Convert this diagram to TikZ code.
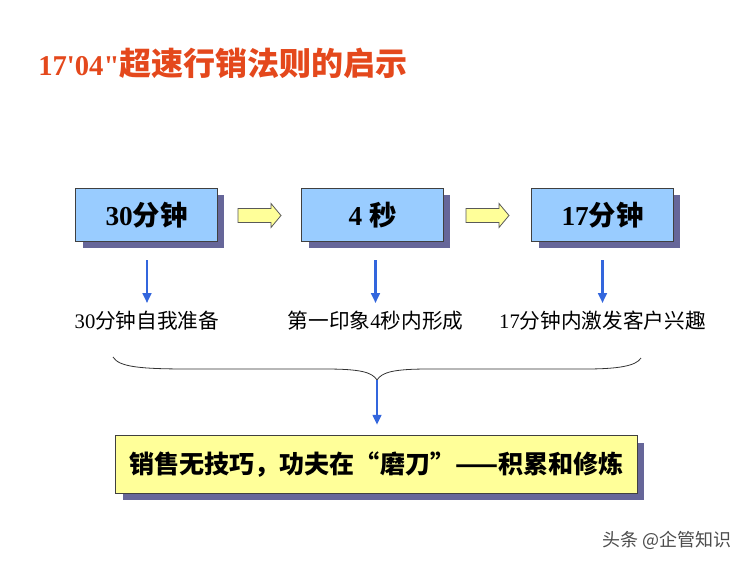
\documentclass[tikz,border=0pt]{standalone}
\usepackage{fontspec}
\setmainfont{Liberation Serif}
\newfontfamily\cjk{Noto Sans CJK SC}
\newfontfamily\straight[Ligatures=TeXOff]{Liberation Serif}
\usepackage{tikz}
\usetikzlibrary{calc}
\usetikzlibrary{shadows}
\usetikzlibrary{arrows.meta}

\definecolor{titlered}{RGB}{228,72,28}
\definecolor{boxblue}{RGB}{153,204,255}
\definecolor{boxyellow}{RGB}{255,255,153}
\definecolor{shadowblue}{RGB}{102,102,153}
\definecolor{flowblue}{RGB}{51,102,221}

\begin{document}
\begin{tikzpicture}[x=0.75pt,y=-0.75pt,
        stage/.style={draw=black!75, fill=boxblue, line width=0.6pt,
            minimum width=106pt, minimum height=40pt, inner sep=0pt,
            font=\fontsize{20.5}{24}\selectfont\bfseries,
            drop shadow={shadow xshift=5pt, shadow yshift=-5pt, fill=shadowblue, opacity=1}},
        goal/.style={stage, fill=boxyellow, minimum width=391pt, minimum height=43pt,
            font=\cjk\fontsize{18.8}{22}\selectfont\bfseries},
        next/.style={draw=black!65, fill=boxyellow, line width=0.6pt, line join=miter},
        note/.style={inner sep=0pt, text height=12pt, text depth=2pt,
            font=\fontsize{15.5}{18}\selectfont},
        flow/.style={draw=flowblue, line width=1.8pt, -{Triangle[length=7.5pt,width=6.5pt]}},
        brace/.style={draw=black!80, line width=0.6pt},
    ]
    \useasboundingbox (0,0) rectangle (750,562);
    % title
    \node[anchor=west, inner sep=0pt, text=titlered] (title) at (38,63)
        {\straight\fontsize{21.5}{24}\selectfont\bfseries 17'04"{\cjk\fontsize{24}{26}\selectfont 超速行销法则的启示}};
    % stages
    \node[stage] (b1) at (146.5,215) {30{\cjk 分钟}};
    \node[stage] (b2) at (372.5,215) {4 {\cjk 秒}};
    \node[stage] (b3) at (602.5,215) {17{\cjk 分钟}};
    % block arrows between stages
    \coordinate (a1) at ($(b1.east)!0.5!(b2.west)$);
    \coordinate (a2) at ($(b2.east)!0.5!(b3.west)$);
    \foreach \a in {a1,a2}
        \draw[next] (\a) ++(-21.5,-6.5) -- ++(33,0) -- ++(0,-5) -- ++(10,12)
            -- ++(-10,12) -- ++(0,-5) -- ++(-33,0) -- cycle;
    % notes
    \node[note] (t1) at (147,322) {30{\cjk 分钟自我准备}};
    \node[note] (t2) at (375.5,322) {{\cjk 第一印象}4{\cjk 秒内形成}};
    \node[note] (t3) at (602.5,322) {17{\cjk 分钟内激发客户兴趣}};
    \foreach \i in {1,2,3}
        \draw[flow, shorten <=13.5pt, shorten >=7pt] (t\i.north |- b\i.south) -- (t\i.north);
    % brace
    \coordinate (tip) at (377,380);
    \draw[brace] (113,357) .. controls (119,367) and (140,369) .. (190,369) -- (325,369)
        .. controls (360,369) and (372,372) .. (tip)
        .. controls (382,372) and (394,369) .. (429,369) -- (585,369)
        .. controls (618,369) and (636,366) .. (641,358);
    % result
    \node[goal] (g) at (376.5,464.5) {销售无技巧，功夫在“磨刀”——积累和修炼};
    \draw[flow, shorten >=8pt] (tip) -- (tip |- g.north);
    % watermark
    \node[inner sep=0pt, text=black!70, font=\cjk\fontsize{13.5}{15}\selectfont] (wm) at (667,540) {头条 @企管知识};
\end{tikzpicture}
\end{document}
